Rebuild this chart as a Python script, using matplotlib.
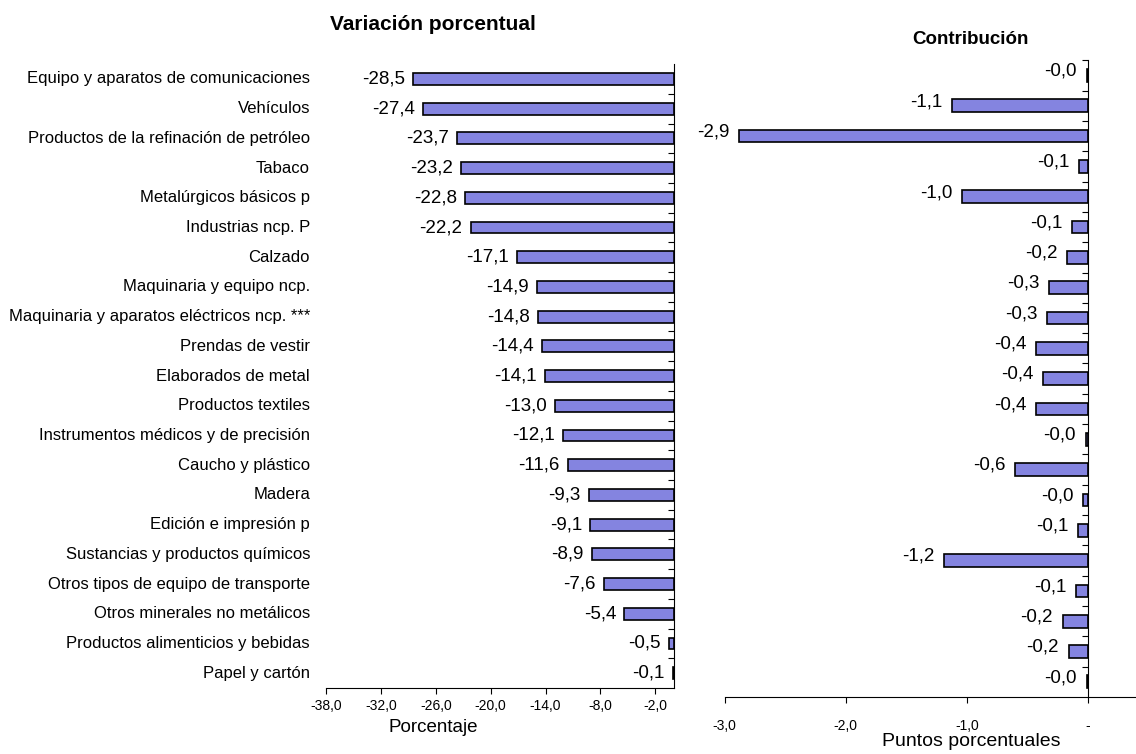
import matplotlib
matplotlib.use("Agg")
import matplotlib.pyplot as plt

plt.rcParams['font.family'] = ['Liberation Sans', 'DejaVu Sans']

# categories, top to bottom
categorias = [
    "Equipo y aparatos de comunicaciones",
    "Vehículos",
    "Productos de la refinación de petróleo",
    "Tabaco",
    "Metalúrgicos básicos p",
    "Industrias ncp. P",
    "Calzado",
    "Maquinaria y equipo ncp.",
    "Maquinaria y aparatos eléctricos ncp. ***",
    "Prendas de vestir",
    "Elaborados de metal",
    "Productos textiles",
    "Instrumentos médicos y de precisión",
    "Caucho y plástico",
    "Madera",
    "Edición e impresión p",
    "Sustancias y productos químicos",
    "Otros tipos de equipo de transporte",
    "Otros minerales no metálicos",
    "Productos alimenticios y bebidas",
    "Papel y cartón",
]

variacion = [-28.5, -27.4, -23.7, -23.2, -22.8, -22.2, -17.1, -14.9, -14.8, -14.4,
             -14.1, -13.0, -12.1, -11.6, -9.3, -9.1, -8.9, -7.6, -5.4, -0.5, -0.1]

contribucion = [-0.01, -1.12, -2.88, -0.07, -1.04, -0.13, -0.17, -0.32, -0.34, -0.43,
                -0.37, -0.43, -0.02, -0.60, -0.04, -0.08, -1.19, -0.10, -0.21, -0.16, -0.01]

ticks_izq = [-38, -32, -26, -20, -14, -8, -2]
ticks_der = [-3, -2, -1, 0]
ticks_der_lbl = ["-3,0", "-2,0", "-1,0", "-"]

color_barra = '#8484e0'


def fmt(v):
    return ("%.1f" % v).replace('.', ',')


fig = plt.figure(figsize=(11.36, 7.54), dpi=100)

# ---- left: variacion porcentual
ax1 = fig.add_axes([0.287, 0.0875, 0.306, 0.8275])
n = len(categorias)
pos = list(range(n))
ax1.barh(pos, variacion, height=0.4, color=color_barra, edgecolor='black', linewidth=1.2)
ax1.set_xlim(-38, 0)
ax1.set_ylim(n - 0.5, -0.5)
for s in ['top', 'left']:
    ax1.spines[s].set_visible(False)
ax1.spines['right'].set_linewidth(0.8)
ax1.spines['bottom'].set_linewidth(0.8)
ax1.yaxis.set_ticks_position('right')
ax1.set_yticks([p + 0.5 for p in pos[:-1]])
ax1.set_yticklabels([])
ax1.tick_params(axis='y', direction='in', length=4, width=0.8)
ax1.set_xticks(ticks_izq)
ax1.set_xticklabels([fmt(t) for t in ticks_izq], fontsize=10)
ax1.tick_params(axis='x', length=4, width=0.8, pad=4)
for i, v in enumerate(variacion):
    ax1.text(v - 0.9, i, fmt(v), ha='right', va='center', fontsize=13.5)
    ax1.text(-0.046, 1 - (i + 0.5) / n, categorias[i], transform=ax1.transAxes,
             ha='right', va='center', fontsize=12)
ax1.set_xlabel("Porcentaje", fontsize=13.5, x=0.307, labelpad=4)
fig.text(0.381, 0.967, "Variación porcentual", ha='center', va='center',
         fontsize=15, fontweight='bold')

# ---- right: contribucion
ax2 = fig.add_axes([0.638, 0.0756, 0.362, 0.8444])
ax2.barh(pos, contribucion, height=0.42, color=color_barra, edgecolor='black', linewidth=1.2)
ax2.set_xlim(-3.0, 0.397)
ax2.set_ylim(n - 0.5, -0.5)
for s in ['top', 'right']:
    ax2.spines[s].set_visible(False)
ax2.spines['left'].set_position(('data', 0))
ax2.spines['left'].set_linewidth(0.8)
ax2.spines['bottom'].set_linewidth(0.8)
ax2.set_yticks([p - 0.5 for p in pos])
ax2.set_yticklabels([])
ax2.tick_params(axis='y', direction='out', length=4, width=0.8)
ax2.set_xticks(ticks_der)
ax2.set_xticklabels(ticks_der_lbl, fontsize=10)
ax2.tick_params(axis='x', length=4, width=0.8, pad=12)
for i, v in enumerate(contribucion):
    ax2.text(v - 0.08, i - 0.14, fmt(v), ha='right', va='center', fontsize=13.5)
ax2.set_xlabel("Puntos porcentuales", fontsize=14, x=0.60, labelpad=0)
fig.text(0.854, 0.947, "Contribución", ha='center', va='center',
         fontsize=13.5, fontweight='bold')

fig.savefig("out.png", dpi=100)
